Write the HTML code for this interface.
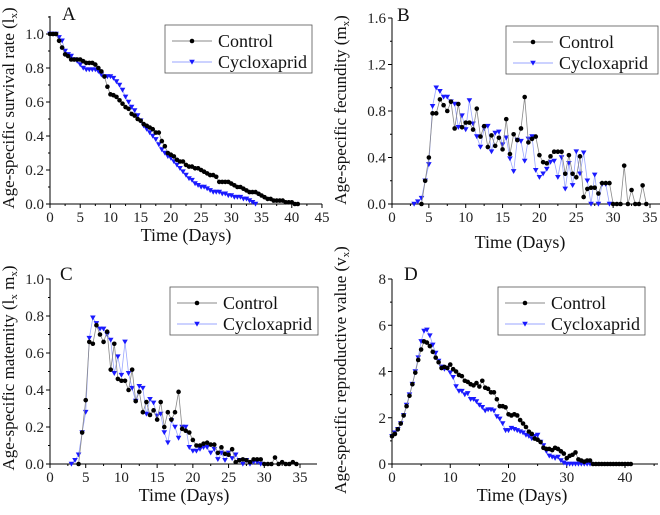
<!DOCTYPE html>
<html><head><meta charset="utf-8"><style>
body{margin:0;background:#fff;}
svg, svg text{font-family:"Liberation Serif","Times New Roman",serif;}
</style></head><body>
<svg id="fig" width="660" height="510" viewBox="0 0 660 510" font-family="Liberation Serif, serif"></svg>
<script>
// ---- data (time step 0.5 day) ----
const lxCtrlStart = 0;
const lxCtrl = [1,1,1,.96,.92,.88,.87,.85,.85,.85,.85,.84,.83,.83,.83,.82,.8,.78,.75,.69,.645,.64,.63,.61,.59,.57,.56,.53,.52,.5,.49,.47,.46,.45,.44,.42,.42,.37,.34,.30,.29,.28,.26,.25,.25,.23,.22,.22,.21,.21,.2,.19,.18,.17,.17,.16,.13,.13,.13,.13,.12,.11,.1,.1,.09,.08,.07,.07,.07,.06,.05,.04,.03,.03,.02,.02,.02,.02,.01,.01,.01,0,0];
const lxCyStart = 0;
const lxCy = [1,1,1,.98,.96,.9,.88,.87,.85,.84,.82,.8,.79,.79,.79,.79,.78,.76,.75,.75,.75,.74,.72,.7,.67,.63,.6,.57,.55,.52,.49,.46,.44,.42,.40,.38,.35,.32,.30,.28,.27,.25,.23,.21,.19,.17,.15,.14,.12,.11,.1,.1,.09,.08,.07,.07,.07,.06,.06,.05,.05,.04,.04,.04,.03,.03,.02,.01,0];
const mxCtrlStart = 4;
const mxCtrl = [0,.2,.4,.78,.78,.9,.85,.8,.88,.65,.86,.66,.7,.7,.64,.82,.58,.67,.49,.59,.5,.57,.47,.73,.43,.6,.55,.65,.92,.53,.56,.58,.42,.36,.35,.41,.45,.45,.45,.26,.42,.26,.23,.41,.06,.13,.14,.14,.09,.18,.18,.18,0,0,0,.33,0,.12,0,0,.16,0];
const mxCyStart = 3;
const mxCy = [0,.02,.05,.2,.34,.84,1.0,.97,.92,.92,.88,.86,.66,.76,.64,.89,.69,.58,.49,.65,.67,.45,.61,.62,.51,.57,.39,.28,.55,.54,.37,.56,.58,.29,.23,.26,.3,.36,.37,.23,.4,.13,.35,.16,.45,.26,.44,.2,0,.25,0,.17,.17,0];
const lmCtrlStart = 4;
const lmCtrl = [0,.17,.345,.66,.65,.75,.70,.66,.715,.51,.65,.46,.45,.45,.40,.51,.34,.39,.28,.335,.265,.29,.24,.335,.2,.28,.24,.28,.39,.19,.18,.17,.13,.1,.1,.11,.115,.105,.105,.06,.09,.055,.05,.08,.01,.02,.025,.02,.01,.025,.025,.025,0,0,0,.035,0,.01,0,0,.01,0];
const lmCyStart = 3;
const lmCy = [0,.02,.05,.17,.28,.68,.79,.76,.73,.73,.70,.67,.49,.58,.48,.66,.49,.41,.34,.42,.41,.27,.35,.33,.26,.27,.17,.115,.235,.2,.14,.2,.2,.09,.07,.07,.08,.09,.09,.06,.08,.025,.06,.02,.06,.03,.05,.02,0,.02,0,.01,.01,0];
const vxCtrlStart = 0;
const vxCtrl = [1.2,1.3,1.5,1.75,2.1,2.5,2.95,3.45,3.95,4.5,4.95,5.3,5.25,5.1,4.85,4.6,4.4,4.15,4.2,4.15,4.3,4.1,4.0,3.85,3.8,3.6,3.55,3.45,3.4,3.5,3.35,3.6,3.3,3.25,3.1,3.1,2.8,2.5,2.5,2.45,2.15,2.1,2.15,2.1,1.9,1.75,1.6,1.4,1.3,1.1,1.05,.95,.7,.65,.65,.6,.7,.65,.55,.45,.25,.35,.4,.5,.2,.15,.1,.15,.15,0,0,0,0,0,0,0,0,0,0,0,0,0,0];
const vxCyStart = 0;
const vxCy = [1.2,1.35,1.5,1.75,2.1,2.55,3.0,3.45,4.0,4.6,5.3,5.75,5.8,5.55,5.15,4.8,4.45,4.2,4.1,4.15,3.95,3.75,3.35,3.15,3.15,3.0,3.05,2.8,2.8,2.7,2.55,2.45,2.3,2.35,2.35,2.3,2.05,1.95,1.75,1.45,1.45,1.55,1.5,1.45,1.4,1.35,1.25,1.2,1.1,1.2,1.25,.95,.8,.55,.35,.3,.25,.3,.15,.05,0,0,0,0,0,0,0,0,0];
const legendLabels = ["Control","Cycloxaprid"];

const NS="http://www.w3.org/2000/svg";
const svg=document.getElementById('fig');
const FF='Liberation Serif, Times New Roman, serif';
function el(tag,attrs,parent,text){const e=document.createElementNS(NS,tag);for(const k in attrs)e.setAttribute(k,attrs[k]);if(tag==='text')e.setAttribute('font-family',FF);if(text!==undefined)e.textContent=text;(parent||svg).appendChild(e);return e;}

function panel(p){
  const g=el('g',{});
  
  
  const sx=v=>p.x0+(v-p.xmin)/(p.xmax-p.xmin)*(p.x1-p.x0);
  const sy=v=>p.y0-(v-p.ymin)/(p.ymax-p.ymin)*(p.y0-p.y1);
  const ax=el('line',{x1:p.x0,y1:p.y0,x2:p.xend,y2:p.y0,stroke:'#000','stroke-width':1},g);
  
  const ay=el('line',{x1:p.x0,y1:p.y0,x2:p.x0,y2:p.ytop,stroke:'#000','stroke-width':1},g);
  
  for(let v=p.xmin;sx(v)<=p.xend+0.5;v+=p.xstep/2){
    const major=Math.abs((v/p.xstep)-Math.round(v/p.xstep))<1e-6;
    el('line',{x1:sx(v),x2:sx(v),y1:p.y0,y2:p.y0+(major?4:2),stroke:'#000'},g);
    if(major){const t=el('text',{x:sx(v),y:p.y0+18,'text-anchor':'middle','font-size':15,fill:'#222'},g,String(Math.round(v)));
      }
  }
  for(let v=p.ymin;sy(v)>=p.ytop-0.5;v+=p.ystep/2){
    const k=v/p.ystep;const major=Math.abs(k-Math.round(k))<1e-6;
    el('line',{x1:p.x0,x2:p.x0-(major?4:2),y1:sy(v),y2:sy(v),stroke:'#000'},g);
    if(major){const t=el('text',{x:p.x0-6,y:sy(v)+5,'text-anchor':'end','font-size':15,fill:'#222'},g,v.toFixed(p.ydec));
      }
  }
  const xt=el('text',{x:p.xtx,y:p.xty,'text-anchor':'middle','font-size':18,fill:'#111'},g,'Time (Days)');
  
  const yt=el('text',{x:0,y:0,'text-anchor':'middle','font-size':17,fill:'#111',transform:`translate(${p.ytx},${p.yty}) rotate(-90)`},g);
  
  el('tspan',{},yt,p.ytitle+' (');
  el('tspan',{},yt,p.sym1);
  el('tspan',{dy:3,'font-size':11},yt,'x');
  if(p.sym2){el('tspan',{dy:-3},yt,' '+p.sym2);el('tspan',{dy:3,'font-size':11},yt,'x');}
  el('tspan',{dy:-3},yt,')');
  const lt=el('text',{x:p.lx,y:p.ly,'font-size':19,fill:'#111'},g,p.letter);
  
  function series(vals,start,color,lineColor,marker,name){
    const sg=el('g',{},g);
    
    const pts=vals.map((v,i)=>[sx(start+i*0.5),sy(v)]);
    el('polyline',{points:pts.map(q=>q.join(',')).join(' '),fill:'none',stroke:lineColor,'stroke-width':0.8},sg);
    pts.forEach(q=>{
      let m;
      if(marker==='c') m=el('circle',{cx:q[0],cy:q[1],r:2.3,fill:color},sg);
      else m=el('path',{d:`M${q[0]-2.8},${q[1]-2.3}L${q[0]+2.8},${q[1]-2.3}L${q[0]},${q[1]+2.6}Z`,fill:color},sg);
      
    });
  }
  series(p.cy,p.cyStart,'#1a1aff','#9aa6ff','t','cycloxaprid-series');
  series(p.ct,p.ctStart,'#000','#888','c','control-series');
  const lg=el('g',{},g);
  
  el('rect',{x:p.lgx,y:p.lgy,width:p.lgw,height:48,fill:'#fff',stroke:'#555','stroke-width':0.8},lg);
  const rows=[[p.lgy+16,'c','#000','#888'],[p.lgy+37,'t','#1a1aff','#9aa6ff']];
  rows.forEach((r,i)=>{
    const e=el('g',{},lg);
    
    el('line',{x1:p.lgx+7,x2:p.lgx+47,y1:r[0],y2:r[0],stroke:r[3]},e);
    const cx=p.lgx+27;
    if(r[1]==='c')el('circle',{cx:cx,cy:r[0],r:2.3,fill:r[2]},e);
    else el('path',{d:`M${cx-2.8},${r[0]-2.3}L${cx+2.8},${r[0]-2.3}L${cx},${r[0]+2.6}Z`,fill:r[2]},e);
    el('text',{x:p.lgx+53,y:r[0]+6,'font-size':18,fill:'#111'},e,legendLabels[i]);
  });
}

panel({letter:'A',x0:50,x1:322,xmin:0,xmax:45,xend:322,y0:204,y1:34,ymin:0,ymax:1,ytop:16,xstep:5,ystep:0.2,ydec:1,
  xtx:186,xty:241,ytx:14,yty:108,ytitle:'Age-specific survival rate',sym1:'l',lx:62,ly:20,
  ct:lxCtrl,ctStart:lxCtrlStart,cy:lxCy,cyStart:lxCyStart,lgx:165,lgy:25,lgw:147});
panel({letter:'B',x0:392,x1:650,xmin:0,xmax:35,xend:660,y0:204,y1:18,ymin:0,ymax:1.6,ytop:18,xstep:5,ystep:0.4,ydec:1,
  xtx:520,xty:248,ytx:346,yty:110,ytitle:'Age-specific fecundity',sym1:'m',lx:397,ly:21,
  ct:mxCtrl,ctStart:mxCtrlStart,cy:mxCy,cyStart:mxCyStart,lgx:506,lgy:26,lgw:152});
panel({letter:'C',x0:50,x1:300,xmin:0,xmax:35,xend:317,y0:464,y1:279,ymin:0,ymax:1,ytop:279,xstep:5,ystep:0.2,ydec:1,
  xtx:184,xty:501,ytx:14,yty:368,ytitle:'Age-specific maternity',sym1:'l',sym2:'m',lx:60,ly:280,
  ct:lmCtrl,ctStart:lmCtrlStart,cy:lmCy,cyStart:lmCyStart,lgx:170,lgy:287,lgw:148});
panel({letter:'D',x0:392,x1:625,xmin:0,xmax:40,xend:658,y0:464,y1:279,ymin:0,ymax:8,ytop:279,xstep:10,ystep:2,ydec:0,
  xtx:522,xty:501,ytx:346,yty:370,ytitle:'Age-specific reproductive value',sym1:'v',lx:404,ly:280,
  ct:vxCtrl,ctStart:vxCtrlStart,cy:vxCy,cyStart:vxCyStart,lgx:498,lgy:287,lgw:147});
</script>
</body></html>
